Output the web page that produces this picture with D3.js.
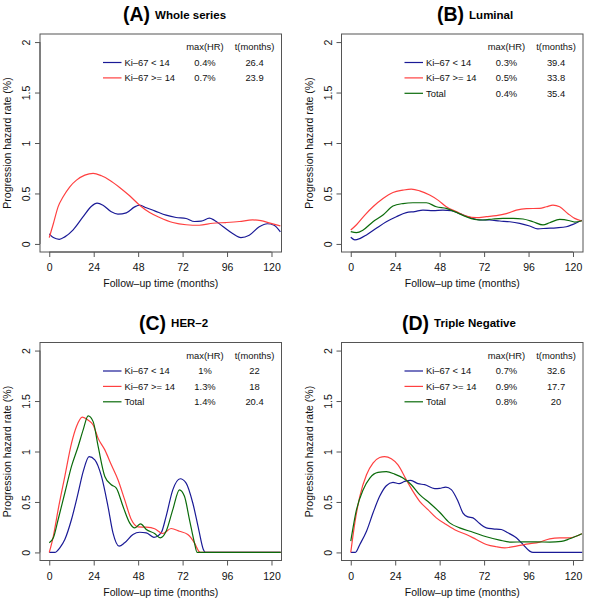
<!DOCTYPE html>
<html>
<head>
<meta charset="utf-8">
<script src="https://cdn.jsdelivr.net/npm/d3@7"></script>
<style>
  html, body { margin: 0; padding: 0; background: #fff; }
  svg { display: block; font-family: "Liberation Sans", Arial, Helvetica, sans-serif; }
</style>
</head>
<body>
<svg id="chart" width="600" height="601"></svg>
<script>
// ---------------- DATA ----------------
const xTicks = [0, 24, 48, 72, 96, 120];
const yTicks = [0, 0.5, 1, 1.5, 2];
const yTickLabels = ["0", "0.5", "1", "1.5", "2"];
const seriesLabels = ["Ki\u201367 < 14", "Ki\u201367 >= 14", "Total"];
const panelLetters = ["(A)", "(B)", "(C)", "(D)"];
const panelNames = ["Whole series", "Luminal", "HER\u20132", "Triple Negative"];

// [month, hazard rate %]
const wholeLow = [[0,0.10],[2.2,0.063],[5.4,0.046],[8.4,0.07],[12.9,0.14],[18.3,0.27],[22.8,0.374],[25.8,0.404],[29,0.384],[33.5,0.318],[37.1,0.295],[41.6,0.308],[46.1,0.367],[48.8,0.384],[52.4,0.358],[56.9,0.328],[63.1,0.285],[68.5,0.262],[73.9,0.252],[78.4,0.222],[82,0.225],[86.5,0.255],[89.1,0.235],[93.6,0.175],[99,0.103],[103.5,0.063],[108,0.086],[113.4,0.17],[117.8,0.20],[121.4,0.185],[124.8,0.12]];
const wholeHigh = [[0,0.063],[2.2,0.20],[4.8,0.37],[7.5,0.467],[11.1,0.566],[14.7,0.632],[19.2,0.682],[23.7,0.70],[28.2,0.675],[32.6,0.632],[38,0.56],[43.4,0.477],[48.8,0.384],[54.2,0.311],[59.6,0.262],[66.7,0.212],[73.9,0.19],[81,0.185],[88.3,0.205],[95.4,0.212],[102.6,0.222],[109.8,0.238],[114.3,0.23],[118.7,0.209],[124.8,0.178]];

const lumLow = [[0,0.066],[2.2,0.04],[4.9,0.053],[8.5,0.089],[13.8,0.155],[19.2,0.22],[24.6,0.27],[30,0.31],[34.5,0.32],[39,0.335],[44.4,0.33],[49.8,0.335],[54.3,0.33],[58.8,0.30],[64.2,0.263],[69.6,0.237],[75,0.237],[80.4,0.227],[85.8,0.22],[91.2,0.204],[96.6,0.178],[101,0.15],[105.6,0.155],[111,0.16],[116.4,0.17],[120,0.194],[124.8,0.235]];
const lumHigh = [[0,0.138],[3.1,0.19],[7.6,0.286],[12,0.368],[17.4,0.45],[22.8,0.51],[28.2,0.533],[32.7,0.543],[37.2,0.526],[42.6,0.484],[47.1,0.434],[51.6,0.368],[57,0.32],[62.4,0.276],[67.8,0.26],[73.2,0.27],[78.6,0.28],[84,0.30],[89.4,0.335],[94.8,0.35],[102,0.352],[105.6,0.368],[109.2,0.385],[112.8,0.368],[117.3,0.30],[120.9,0.253],[124.8,0.227]];
const lumTotal = [[0,0.122],[3.1,0.112],[6.7,0.138],[12,0.22],[17.4,0.286],[22.8,0.375],[28.2,0.40],[33.6,0.408],[40.8,0.408],[46.2,0.368],[51.6,0.352],[56.1,0.32],[61.5,0.276],[66.9,0.243],[71.4,0.237],[76.8,0.247],[82.2,0.253],[87.6,0.253],[93,0.247],[98.4,0.22],[103.8,0.188],[107.4,0.21],[112.8,0.243],[118.2,0.23],[120.9,0.217],[124.8,0.23]];

const herLow = [[0,0],[3,0],[5.7,0.046],[8.4,0.128],[12,0.326],[15.6,0.59],[18.3,0.80],[21.5,0.95],[24.6,0.918],[28.2,0.753],[31.7,0.457],[34.4,0.194],[37.7,0.0625],[40.7,0.095],[45.2,0.178],[48.8,0.20],[52.4,0.194],[56.5,0.15],[60.4,0.194],[63.1,0.358],[66.7,0.62],[70.7,0.73],[73.9,0.687],[77.5,0.49],[80.7,0.227],[83.2,0.03],[84.3,0],[125,0]];
const herHigh = [[0,0],[2.2,0.16],[4.8,0.424],[8.4,0.753],[12,1.08],[14.7,1.247],[17.9,1.34],[21,1.31],[23.7,1.263],[26.4,1.13],[30,1.016],[33.5,0.868],[37.1,0.72],[40.7,0.523],[44.3,0.326],[47.9,0.253],[52.4,0.25],[56.9,0.234],[61.3,0.1875],[65.8,0.237],[70.3,0.21],[74.8,0.178],[78.4,0.095],[81,0.007],[82,0],[125,0]];
const herTotal = [[0,0.095],[2.2,0.145],[4.8,0.326],[8.4,0.589],[12,0.852],[15.6,1.05],[18.3,1.214],[21,1.352],[23.7,1.296],[26.4,1.05],[30,0.753],[33.5,0.671],[36.2,0.638],[39.8,0.457],[43.4,0.293],[46.1,0.243],[49.3,0.283],[52.4,0.227],[56.9,0.1875],[59.9,0.145],[63.1,0.21],[66.7,0.424],[70.3,0.62],[73,0.556],[75.7,0.326],[78.4,0.095],[79.8,0],[125,0]];

const tnLow = [[0,0],[2.5,0],[4.9,0.079],[8.5,0.21],[12,0.39],[15.6,0.556],[19.2,0.661],[22.8,0.694],[26.1,0.681],[29.1,0.704],[32.4,0.714],[36.3,0.681],[39.9,0.671],[45.3,0.632],[48,0.635],[51.3,0.648],[54.3,0.622],[57.9,0.507],[60.6,0.39],[63.3,0.352],[66,0.342],[69.6,0.286],[73.2,0.243],[76.8,0.234],[81.3,0.227],[84.9,0.194],[89.4,0.145],[93,0.079],[96.6,0.013],[98.4,0],[125,0]];
const tnHigh = [[0,0],[2.2,0.293],[4.9,0.556],[8.5,0.77],[12,0.885],[15.6,0.94],[18.3,0.95],[21.9,0.928],[25.5,0.868],[30,0.72],[33.6,0.605],[37.2,0.507],[41.7,0.424],[46.2,0.342],[51.6,0.276],[57,0.217],[62.4,0.178],[67.8,0.128],[73.2,0.079],[78.6,0.056],[83.1,0.046],[89.4,0.0625],[94.8,0.082],[102,0.102],[107.4,0.135],[112.8,0.145],[118.2,0.145],[124.8,0.185]];
const tnTotal = [[0,0.112],[3.1,0.424],[6.7,0.622],[10.3,0.737],[14.7,0.793],[19.2,0.80],[23.7,0.776],[28.2,0.737],[32.7,0.671],[37.2,0.572],[42.6,0.49],[48,0.398],[53.4,0.293],[58.8,0.243],[66,0.20],[73.2,0.155],[80.4,0.122],[86.7,0.102],[93,0.105],[100.2,0.105],[107.4,0.102],[113.7,0.109],[118.2,0.135],[124.8,0.185]];

const maxHR = [["0.4%","0.7%"],["0.3%","0.5%","0.4%"],["1%","1.3%","1.4%"],["0.7%","0.9%","0.8%"]];
const tMonths = [["26.4","23.9"],["39.4","33.8","35.4"],["22","18","20.4"],["32.6","17.7","20"]];
const panelSeries = [[wholeLow, wholeHigh],[lumLow, lumHigh, lumTotal],[herLow, herHigh, herTotal],[tnLow, tnHigh, tnTotal]];

// ---------------- LAYOUT / STYLE ----------------
const colors = ["#1a1a96", "#ff4040", "#0b6b0b"];
const boxW = 241.5, boxH = 218;
const panelPos = [
  {x: 40,    y: 34,  titleX: 123},
  {x: 341.5, y: 34,  titleX: 437},
  {x: 40,    y: 342.5, titleX: 139},
  {x: 341.5, y: 342.5, titleX: 402}
];

const svg = d3.select("#chart");

panelPos.forEach((p, i) => {
  const g = svg.append("g").attr("transform", `translate(${p.x},${p.y})`);
  const x = d3.scaleLinear().domain([-5, 125.4]).range([0, boxW]);
  const y = d3.scaleLinear().domain([-0.08, 2.08]).range([boxH, 0]);

  // title
  const t = svg.append("text")
    .attr("x", p.titleX).attr("y", p.y - 13)
    .attr("fill", "#000").attr("font-weight", "bold");
  t.append("tspan").attr("font-size", 19.5).text(panelLetters[i]);
  t.append("tspan").attr("font-size", 11.5).attr("dx", 5).attr("dy", -2.3).text(panelNames[i]);

  // clip
  const clipId = "clip" + i;
  g.append("clipPath").attr("id", clipId)
    .append("rect").attr("width", boxW).attr("height", boxH);

  // lines
  const line = d3.line().x(d => x(d[0])).y(d => y(d[1])).curve(d3.curveMonotoneX);
  panelSeries[i].forEach((s, k) => {
    g.append("path").datum(s)
      .attr("clip-path", `url(#${clipId})`)
      .attr("d", line)
      .attr("fill", "none")
      .attr("stroke", colors[k])
      .attr("stroke-width", 1.2)
      .attr("stroke-linejoin", "round");
  });

  // box
  g.append("rect").attr("width", boxW).attr("height", boxH)
    .attr("fill", "none").attr("stroke", "#555").attr("stroke-width", 1);

  // x axis
  const xa = g.append("g").attr("transform", `translate(0,${boxH})`)
    .call(d3.axisBottom(x).tickValues(xTicks).tickSize(5).tickPadding(7));
  xa.select(".domain").attr("d", `M${x(0)},0H${x(120)}`).attr("stroke", "#555");
  xa.selectAll(".tick line").attr("stroke", "#555");
  xa.selectAll(".tick text").attr("font-size", 10.5).attr("fill", "#111")
    .attr("font-family", "Liberation Sans, Arial, sans-serif");

  // y axis
  const ya = g.append("g")
    .call(d3.axisLeft(y).tickValues(yTicks).tickSize(5).tickFormat((d, j) => yTickLabels[j]));
  ya.select(".domain").attr("d", `M0,${y(0)}V${y(2)}`).attr("stroke", "#555");
  ya.selectAll(".tick line").attr("stroke", "#555");
  ya.selectAll(".tick text")
    .attr("font-size", 10.5).attr("fill", "#111")
    .attr("font-family", "Liberation Sans, Arial, sans-serif")
    .attr("x", null).attr("dy", null)
    .attr("text-anchor", "middle")
    .attr("transform", "translate(-10,0) rotate(-90)");

  // axis titles
  g.append("text").attr("x", boxW / 2).attr("y", boxH + 35)
    .attr("text-anchor", "middle").attr("font-size", 10.5).attr("fill", "#111")
    .text("Follow\u2013up time (months)");
  g.append("text")
    .attr("transform", `translate(${-29},${y(1)}) rotate(-90)`)
    .attr("text-anchor", "middle").attr("font-size", 10.5).attr("fill", "#111")
    .text("Progression hazard rate (%)");

  // legend
  const lg = g.append("g").attr("font-size", 9.4).attr("fill", "#111");
  const rowY0 = 28.5, rowGap = 15.4;
  lg.append("text").attr("x", 165).attr("y", rowY0 - rowGap + 3.3).attr("text-anchor", "middle").text("max(HR)");
  lg.append("text").attr("x", 214.5).attr("y", rowY0 - rowGap + 3.3).attr("text-anchor", "middle").text("t(months)");
  panelSeries[i].forEach((s, k) => {
    const yy = rowY0 + k * rowGap;
    lg.append("line").attr("x1", 63).attr("x2", 81.5).attr("y1", yy).attr("y2", yy)
      .attr("stroke", colors[k]).attr("stroke-width", 1.2);
    lg.append("text").attr("x", 84.5).attr("y", yy + 3.3).text(seriesLabels[k]);
    lg.append("text").attr("x", 165).attr("y", yy + 3.3).attr("text-anchor", "middle").text(maxHR[i][k]);
    lg.append("text").attr("x", 214.5).attr("y", yy + 3.3).attr("text-anchor", "middle").text(tMonths[i][k]);
  });
});
</script>
</body>
</html>
